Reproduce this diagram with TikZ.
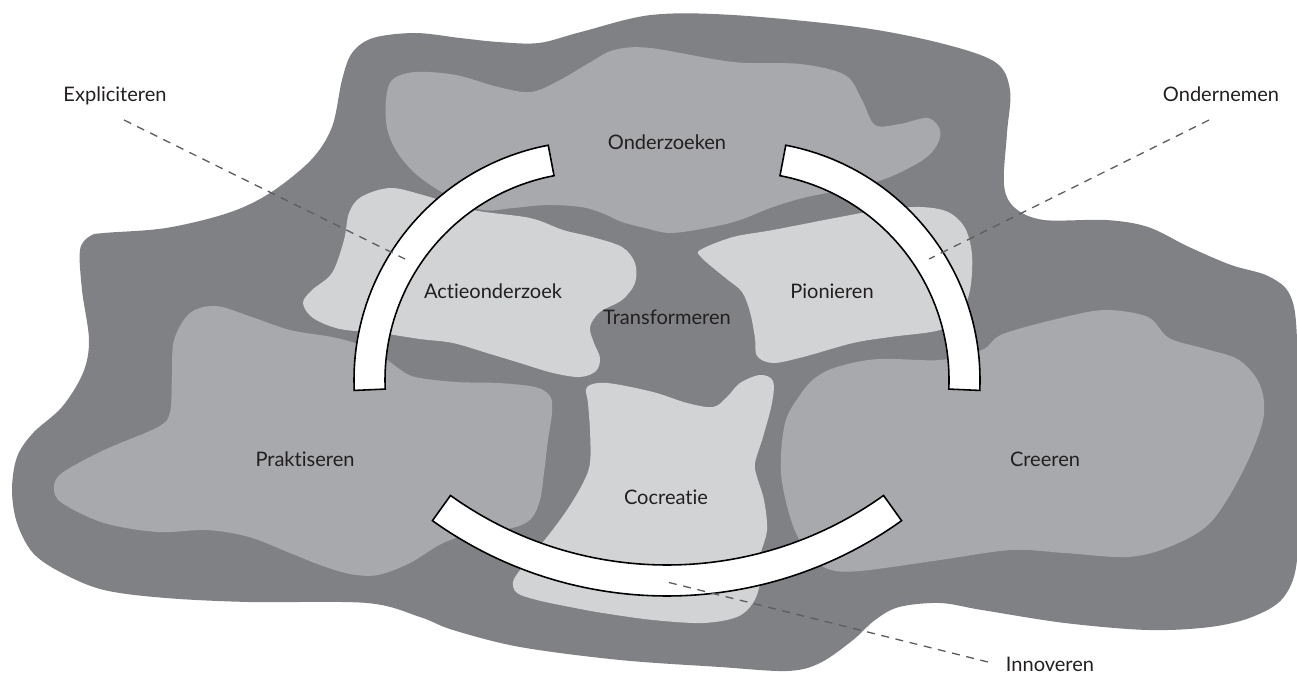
\documentclass[tikz,border=0pt]{standalone}
\usepackage{fontspec}
\setmainfont{Lato}[Ligatures=NoCommon]
\definecolor{cDark}{HTML}{808184}
\definecolor{cMid}{HTML}{A7A9AC}
\definecolor{cLight}{HTML}{D1D3D4}
\definecolor{cText}{HTML}{231F20}
\definecolor{cDash}{HTML}{5D5E61}
\begin{document}
\begin{tikzpicture}[x=0.02cm,y=-0.02cm,
  blobdark/.style={fill=cDark},
  blobmid/.style={fill=cMid},
  bloblight/.style={fill=cLight},
  ring/.style={fill=white,draw=black,line width=0.9pt,line join=miter},
  leader/.style={draw=cDash,line width=0.75pt,dash pattern=on 4.5pt off 3.8pt},
  lbl/.style={text=cText,font=\fontsize{11.4}{13}\selectfont,anchor=base,inner sep=0pt}]
\useasboundingbox (0,0) rectangle (1297,679);
\fill[white] (0,0) rectangle (1297,679);
% outer blob
\fill[blobdark] plot[smooth cycle,tension=0.55] coordinates {
 (373,38) (415,33) (460,38) (498,42) (539,43) (581,32) (651,15) (733,15) (857,27) (940,43)
 (995,62) (1010,90) (1007,133) (1004,185) (1015,208) (1044,220) (1106,220) (1148,227)
 (1189,247) (1231,265) (1268,276) (1290,295) (1297,340) (1297,470) (1297,560) (1283,598)
 (1252,617) (1210,627) (1148,630) (1065,623) (982,610) (940,603) (899,607) (875,620)
 (853,640) (820,663) (787,671) (720,667) (620,660) (520,647) (453,630) (420,617) (367,603)
 (249,602) (166,598) (104,590) (62,573) (33,553) (17,523) (12,490) (17,457) (33,433)
 (62,407) (83,373) (89,340) (82,290) (80,250) (90,236) (104,233) (166,228) (228,213)
 (270,193) (311,160) (332,127) (342,80) (352,53)};
% medium blobs
\fill[blobmid] plot[smooth cycle,tension=0.55] coordinates {
 (386,100) (392,80) (415,72) (456,75) (498,87) (531,92) (560,80) (589,63) (614,50) (650,48)
 (733,62) (800,64) (845,75) (862,100) (875,125) (900,124) (928,118) (940,130) (937,145)
 (923,160) (890,177) (857,187) (807,197) (773,207) (740,220) (712,227) (671,233) (645,228)
 (622,222) (602,213) (581,207) (547,205) (513,208) (483,210) (450,197) (417,175) (397,152)
 (387,128)};
\fill[blobmid] plot[smooth cycle,tension=0.55] coordinates {
 (174,340) (190,313) (216,306) (249,316) (290,330) (332,337) (358,344) (378,353) (398,368)
 (415,377) (456,382) (498,383) (535,387) (550,396) (552,412) (548,440) (544,473) (540,500)
 (531,519) (512,528) (475,533) (443,543) (410,563) (378,575) (350,574) (320,565) (290,553)
 (249,537) (207,530) (158,532) (104,523) (62,503) (54,488) (62,473) (104,450) (158,427)
 (170,412) (172,375)};
\fill[blobmid] plot[smooth cycle,tension=0.55] coordinates {
 (837,367) (878,359) (940,360) (982,350) (1003,334) (1065,317) (1106,310) (1148,317)
 (1169,338) (1206,349) (1239,360) (1260,385) (1263,420) (1242,473) (1210,523) (1169,547)
 (1127,557) (1065,553) (1011,550) (940,560) (860,571) (828,569) (808,553) (792,523)
 (781,473) (785,423) (800,395) (815,378)};
% light blobs
\fill[bloblight] plot[smooth cycle,tension=0.55] coordinates {
 (303,303) (312,290) (332,273) (344,240) (349,213) (361,197) (390,188) (423,195) (473,210)
 (530,218) (563,230) (592,237) (622,247) (635,263) (635,283) (622,300) (600,312) (590,327)
 (594,343) (600,358) (596,371) (580,377) (553,373) (520,363) (487,353) (453,343) (420,339)
 (380,333) (340,329) (313,318)};
\fill[bloblight] plot[smooth cycle,tension=0.55] coordinates {
 (700,250) (733,237) (773,230) (840,217) (880,210) (920,207) (948,212) (965,228) (972,255)
 (970,290) (960,315) (940,330) (890,337) (853,343) (803,357) (773,363) (757,356) (755,338)
 (750,312) (742,292) (728,280) (712,267) (701,257)};
\fill[bloblight] plot[smooth cycle,tension=0.55] coordinates {
 (587,387) (607,383) (653,392) (687,403) (713,407) (727,397) (740,383) (760,375) (773,381)
 (772,403) (763,437) (755,463) (757,477) (764,500) (767,530) (760,557) (760,583) (753,603)
 (737,617) (703,623) (653,620) (603,613) (570,607) (537,600) (517,593) (513,582) (520,570)
 (533,553) (547,537) (567,510) (583,483) (590,463) (590,430) (588,403)};
% ring segments
\coordinate (cl) at (593,380);
\coordinate (cr) at (741,380);
\coordinate (cb) at (667,193);
\draw[ring] ([shift={(177.5:239)}]cl) arc[start angle=177.5,end angle=259.2,radius=239]
  -- ([shift={(259.2:208)}]cl) arc[start angle=259.2,end angle=177.5,radius=208] -- cycle;
\draw[ring] ([shift={(2.5:239)}]cr) arc[start angle=2.5,end angle=-79.2,radius=239]
  -- ([shift={(-79.2:208)}]cr) arc[start angle=-79.2,end angle=2.5,radius=208] -- cycle;
\draw[ring] ([shift={(54.4:403)}]cb) arc[start angle=54.4,end angle=125.6,radius=403]
  -- ([shift={(125.6:372)}]cb) arc[start angle=125.6,end angle=54.4,radius=372] -- cycle;
% labels
\node[lbl] (expl) at (115,101) {Expliciteren};
\node[lbl] (onder) at (1221,101) {Ondernemen};
\node[lbl] (innov) at (1050,671) {Innoveren};
\node[lbl] (ozk) at (667,149) {Onderzoeken};
\node[lbl] (act) at (493,298) {Actieonderzoek};
\node[lbl] (trans) at (667,324) {Transformeren};
\node[lbl] (pion) at (832,298) {Pionieren};
\node[lbl] (prak) at (305,466) {Praktiseren};
\node[lbl] (cre) at (1045,466) {Creeren};
\node[lbl] (cocr) at (666,504) {Cocreatie};
% leaders
\coordinate (explS) at (124,120);
\coordinate (explE) at (405,259);
\coordinate (onderS) at (1209,120);
\coordinate (onderE) at (929,259);
\coordinate (innovS) at (988,662);
\coordinate (innovE) at (667,582);
\draw[leader] (explS) -- (explE);
\draw[leader] (onderS) -- (onderE);
\draw[leader] (innovS) -- (innovE);
\end{tikzpicture}
\end{document}
